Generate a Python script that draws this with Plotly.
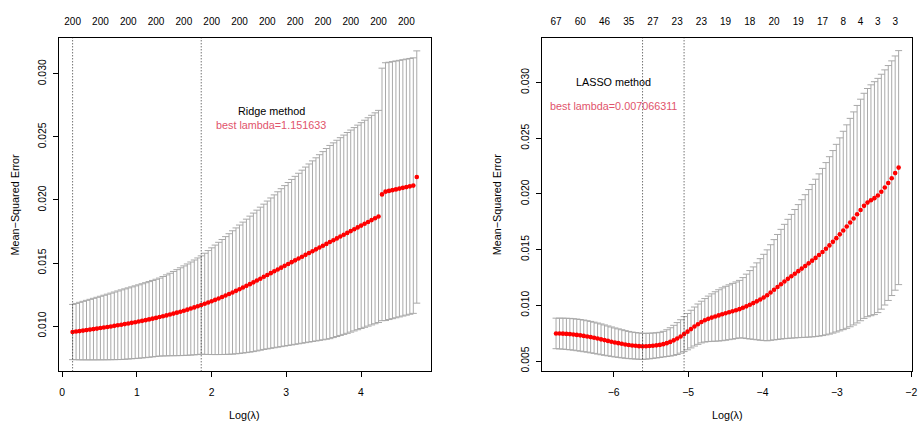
import numpy as np
import plotly.graph_objects as go

# ---------------------------------------------------------------------------
# Cross-validated MSE along the glmnet lambda path (100 log-spaced lambdas,
# lambda.min.ratio = 0.01) for a ridge fit (alpha = 0) and a LASSO fit (alpha = 1)
# ---------------------------------------------------------------------------
N_LAMBDA = 100
ridge_loglam_range = (0.1412, 4.7464)
lasso_loglam_range = (-6.775, -2.170)

ridge_cvm = [
    0.009530, 0.009567, 0.009605, 0.009643, 0.009682, 0.009722, 0.009762, 0.009803, 0.009845, 0.009887,
    0.009930, 0.009974, 0.010019, 0.010065, 0.010112, 0.010160, 0.010209, 0.010259, 0.010310, 0.010362,
    0.010416, 0.010472, 0.010530, 0.010590, 0.010652, 0.010716, 0.010782, 0.010850, 0.010920, 0.010992,
    0.011066, 0.011143, 0.011223, 0.011306, 0.011392, 0.011481, 0.011573, 0.011669, 0.011768, 0.011870,
    0.011975, 0.012083, 0.012194, 0.012308, 0.012425, 0.012545, 0.012668, 0.012794, 0.012923, 0.013055,
    0.013190, 0.013328, 0.013469, 0.013613, 0.013760, 0.013909, 0.014054, 0.014199, 0.014344, 0.014489,
    0.014634, 0.014779, 0.014924, 0.015069, 0.015214, 0.015359, 0.015504, 0.015649, 0.015794, 0.015939,
    0.016084, 0.016229, 0.016374, 0.016519, 0.016664, 0.016809, 0.016954, 0.017099, 0.017244, 0.017389,
    0.017534, 0.017679, 0.017824, 0.017969, 0.018114, 0.018259, 0.018404, 0.018549, 0.018694, 0.020440,
    0.020660, 0.020720, 0.020780, 0.020840, 0.020900, 0.020960, 0.021020, 0.021080, 0.021140, 0.021820,
]
ridge_cvsd = [
    0.00219, 0.00223, 0.00228, 0.00232, 0.00236, 0.00240, 0.00244, 0.00248, 0.00252, 0.00256,
    0.00260, 0.00264, 0.00268, 0.00272, 0.00276, 0.00279, 0.00282, 0.00285, 0.00288, 0.00291,
    0.00294, 0.00297, 0.00300, 0.00303, 0.00306, 0.00309, 0.00315, 0.00321, 0.00327, 0.00334,
    0.00341, 0.00348, 0.00355, 0.00362, 0.00369, 0.00376, 0.00383, 0.00390, 0.00401, 0.00412,
    0.00423, 0.00434, 0.00445, 0.00456, 0.00467, 0.00478, 0.00489, 0.00499, 0.00509, 0.00519,
    0.00529, 0.00539, 0.00549, 0.00558, 0.00567, 0.00576, 0.00586, 0.00596, 0.00606, 0.00616,
    0.00626, 0.00636, 0.00646, 0.00656, 0.00666, 0.00676, 0.00686, 0.00696, 0.00706, 0.00716,
    0.00726, 0.00736, 0.00746, 0.00756, 0.00766, 0.00772, 0.00778, 0.00784, 0.00790, 0.00796,
    0.00801, 0.00806, 0.00811, 0.00816, 0.00821, 0.00826, 0.00831, 0.00836, 0.00841, 0.01001,
    0.01022, 0.01020, 0.01019, 0.01018, 0.01017, 0.01016, 0.01015, 0.01014, 0.01013, 0.01000,
]

lasso_cvm = [
    0.00748, 0.00747, 0.00746, 0.00744, 0.00742, 0.00739, 0.00735, 0.00731, 0.00726, 0.00721,
    0.00715, 0.00709, 0.00702, 0.00695, 0.00688, 0.00681, 0.00674, 0.00667, 0.00661, 0.00655,
    0.00649, 0.00644, 0.00640, 0.00637, 0.00634, 0.00632, 0.00633, 0.00635, 0.00638, 0.00641,
    0.00645, 0.00652, 0.00661, 0.00672, 0.00686, 0.00702, 0.00721, 0.00742, 0.00764, 0.00787,
    0.00810, 0.00831, 0.00850, 0.00866, 0.00879, 0.00890, 0.00900, 0.00910, 0.00920, 0.00929,
    0.00938, 0.00947, 0.00956, 0.00966, 0.00978, 0.00991, 0.01005, 0.01020, 0.01036, 0.01053,
    0.01071, 0.01090, 0.01115, 0.01140, 0.01165, 0.01190, 0.01214, 0.01238, 0.01261, 0.01284,
    0.01307, 0.01330, 0.01353, 0.01377, 0.01401, 0.01426, 0.01452, 0.01479, 0.01508, 0.01538,
    0.01570, 0.01603, 0.01637, 0.01672, 0.01707, 0.01743, 0.01780, 0.01818, 0.01856, 0.01893,
    0.01922, 0.01943, 0.01962, 0.01986, 0.02020, 0.02058, 0.02098, 0.02141, 0.02187, 0.02236,
]
lasso_cvsd = [
    0.00137, 0.00138, 0.00139, 0.00140, 0.00141, 0.00141, 0.00142, 0.00142, 0.00142, 0.00141,
    0.00141, 0.00140, 0.00139, 0.00138, 0.00136, 0.00134, 0.00132, 0.00130, 0.00128, 0.00126,
    0.00124, 0.00122, 0.00120, 0.00119, 0.00118, 0.00117, 0.00116, 0.00115, 0.00114, 0.00113,
    0.00113, 0.00115, 0.00120, 0.00127, 0.00135, 0.00143, 0.00150, 0.00157, 0.00163, 0.00169,
    0.00175, 0.00181, 0.00187, 0.00195, 0.00204, 0.00213, 0.00222, 0.00230, 0.00237, 0.00242,
    0.00246, 0.00250, 0.00254, 0.00258, 0.00271, 0.00289, 0.00307, 0.00325, 0.00345, 0.00366,
    0.00387, 0.00408, 0.00429, 0.00450, 0.00471, 0.00492, 0.00513, 0.00534, 0.00555, 0.00576,
    0.00597, 0.00618, 0.00640, 0.00662, 0.00684, 0.00706, 0.00728, 0.00750, 0.00773, 0.00796,
    0.00819, 0.00842, 0.00866, 0.00890, 0.00913, 0.00935, 0.00956, 0.00976, 0.00994, 0.01010,
    0.01024, 0.01036, 0.01045, 0.01051, 0.01054, 0.01055, 0.01054, 0.01053, 0.01051, 0.01050,
]

# number of non-zero coefficients, printed along the top at these path positions
ridge_nz_idx = [0, 8, 16, 24, 32, 40, 48, 56, 64, 72, 80, 88, 96]
ridge_nz = [200, 200, 200, 200, 200, 200, 200, 200, 200, 200, 200, 200, 200]
lasso_nz_idx = [0, 7, 14, 21, 28, 35, 42, 49, 56, 63, 70, 77, 83, 88, 93, 98]
lasso_nz = [67, 60, 46, 35, 27, 23, 23, 19, 18, 20, 19, 17, 8, 4, 3, 3]

ridge_title = "Ridge method"
ridge_best = "best lambda=1.151633"
lasso_title = "LASSO method"
lasso_best = "best lambda=0.007066311"

ridge_x = np.linspace(*ridge_loglam_range, N_LAMBDA)
lasso_x = np.linspace(*lasso_loglam_range, N_LAMBDA)


def min_and_1se(cvm, cvsd):
    cvm = np.asarray(cvm)
    i_min = int(np.argmin(cvm))
    thr = cvm[i_min] + cvsd[i_min]
    i_1se = int(np.max(np.where(cvm <= thr)[0]))
    return i_min, i_1se


FONT = "Liberation Sans, Arial, Helvetica, sans-serif"
GREY = "#A9A9A9"
PINK = "#DF536B"

fig = go.Figure()


def add_panel(x, cvm, cvsd, xa, ya, xa_top):
    fig.add_trace(go.Scatter(
        x=x, y=cvm, mode="markers", xaxis=xa, yaxis=ya,
        marker=dict(color="red", size=4.6, line=dict(width=0)),
        error_y=dict(type="data", array=cvsd, visible=True, color=GREY,
                     thickness=1, width=3.5),
        showlegend=False, hoverinfo="x+y",
    ))
    # transparent twin so the top (degrees-of-freedom) axis gets drawn
    fig.add_trace(go.Scatter(
        x=[x[0], x[-1]], y=[cvm[0], cvm[-1]], mode="markers", xaxis=xa_top, yaxis=ya,
        marker=dict(opacity=0), showlegend=False, hoverinfo="skip",
    ))


add_panel(ridge_x, ridge_cvm, ridge_cvsd, "x", "y", "x3")
add_panel(lasso_x, lasso_cvm, lasso_cvsd, "x2", "y2", "x4")

# vertical dotted lines at lambda.min and lambda.1se
shapes = []
for x, cvm, cvsd, xr, yr in [(ridge_x, ridge_cvm, ridge_cvsd, "x", "y"),
                              (lasso_x, lasso_cvm, lasso_cvsd, "x2", "y2")]:
    for i in min_and_1se(cvm, cvsd):
        shapes.append(dict(type="line", xref=xr, yref=f"{yr} domain",
                           x0=x[i], x1=x[i], y0=0, y1=1,
                           line=dict(color="#333333", width=1, dash="1px,2px")))

W, H = 922, 423
Y_DOM = [1 - 372.2 / H, 1 - 38 / H]
L_DOM = [59 / W, 433 / W]
R_DOM = [545.3 / W, 917.3 / W]

tickfont = dict(family=FONT, size=10.4, color="#000000")
axis_common = dict(showgrid=False, zeroline=False, showline=True, mirror=True,
                   linecolor="#000000", linewidth=1, ticks="outside", ticklen=5,
                   tickcolor="#000000", tickwidth=1, tickfont=tickfont)

ridge_xr = [-0.045, 4.932]
lasso_xr = [-6.959, -1.986]

layout = dict(
    width=W, height=H,
    margin=dict(l=0, r=0, t=0, b=0),
    paper_bgcolor="white", plot_bgcolor="white",
    font=dict(family=FONT, size=10.4, color="#000000"),
    xaxis=dict(domain=L_DOM, anchor="y", range=ridge_xr, tickvals=[0, 1, 2, 3, 4],
               ticklabelstandoff=6, **axis_common),
    yaxis=dict(domain=Y_DOM, anchor="x", range=[0.006415, 0.032849],
               tickvals=[0.010, 0.015, 0.020, 0.025, 0.030], tickformat=".3f",
               tickangle=-90, ticklabelstandoff=3, **axis_common),
    xaxis2=dict(domain=R_DOM, anchor="y2", range=lasso_xr, tickvals=[-6, -5, -4, -3, -2],
                ticklabelstandoff=6, ticklabeloverflow="allow", **axis_common),
    yaxis2=dict(domain=Y_DOM, anchor="x2", range=[0.00408, 0.0340],
                tickvals=[0.005, 0.010, 0.015, 0.020, 0.025, 0.030], tickformat=".3f",
                tickangle=-90, ticklabelstandoff=3, **axis_common),
    xaxis3=dict(domain=L_DOM, anchor="y", overlaying="x", side="top", range=ridge_xr,
                tickvals=[ridge_x[i] for i in ridge_nz_idx], ticktext=[str(v) for v in ridge_nz],
                ticks="", showline=False, showgrid=False, zeroline=False,
                tickfont=dict(family=FONT, size=10, color="#000000"), ticklabelstandoff=10),
    xaxis4=dict(domain=R_DOM, anchor="y2", overlaying="x2", side="top", range=lasso_xr,
                tickvals=[lasso_x[i] for i in lasso_nz_idx], ticktext=[str(v) for v in lasso_nz],
                ticks="", showline=False, showgrid=False, zeroline=False,
                tickfont=dict(family=FONT, size=10, color="#000000"), ticklabelstandoff=10),
    shapes=shapes,
)

lab = dict(family=FONT, size=10.8, color="#000000")
annotations = [
    dict(text="Mean\u2212Squared Error", xref="paper", yref="paper", x=15 / W, y=1 - 205 / H,
         textangle=-90, showarrow=False, font=lab, xanchor="center", yanchor="middle"),
    dict(text="Mean\u2212Squared Error", xref="paper", yref="paper", x=499.5 / W, y=1 - 205 / H,
         textangle=-90, showarrow=False, font=lab, xanchor="center", yanchor="middle"),
    dict(text="Log(\u03bb)", xref="paper", yref="paper", x=246 / W, y=1 - 416 / H,
         showarrow=False, font=lab, xanchor="center", yanchor="middle"),
    dict(text="Log(\u03bb)", xref="paper", yref="paper", x=731.3 / W, y=1 - 416 / H,
         showarrow=False, font=lab, xanchor="center", yanchor="middle"),
    dict(text=ridge_title, xref="x", yref="y", x=2.8, y=0.02707, showarrow=False,
         font=lab, xanchor="center", yanchor="middle"),
    dict(text=ridge_best, xref="x", yref="y", x=2.8, y=0.02591, showarrow=False,
         font=dict(family=FONT, size=10.8, color=PINK), xanchor="center", yanchor="middle"),
    dict(text=lasso_title, xref="x2", yref="y2", x=-6.0, y=0.0300, showarrow=False,
         font=lab, xanchor="center", yanchor="middle"),
    dict(text=lasso_best, xref="x2", yref="y2", x=-6.0, y=0.02791, showarrow=False,
         font=dict(family=FONT, size=10.8, color=PINK), xanchor="center", yanchor="middle"),
]
layout["annotations"] = annotations

fig.update_layout(**layout)
fig.write_html("out.html")
